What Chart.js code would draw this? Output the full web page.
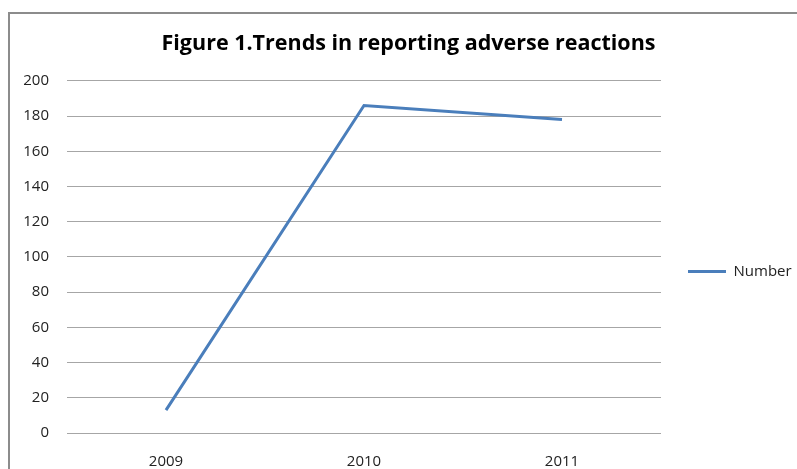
<!DOCTYPE html>
<html>
<head>
<meta charset="utf-8">
<script src="https://cdn.jsdelivr.net/npm/chart.js@4/dist/chart.umd.min.js"></script>
<style>
  html, body { margin: 0; padding: 0; background: #fff; overflow: hidden; }
  #wrap { position: relative; width: 797px; height: 469px; }
  #frame { position: absolute; left: 8px; top: 12px; width: 820px; height: 480px;
           border: 2px solid #8c8c8c; box-sizing: border-box; pointer-events: none; }
  canvas { position: absolute; left: 0; top: 0; }
</style>
</head>
<body>
<div id="wrap">
  <div id="frame"></div>
  <canvas id="chart" width="797" height="469"></canvas>
</div>
<script>
// chart data
const years = ['2009', '2010', '2011'];
const reports = [13, 186, 178];
const yTicks = [0, 20, 40, 60, 80, 100, 120, 140, 160, 180, 200];

const font = "'Open Sans', sans-serif";

// keep the legend a fixed width and nudge it down a bit
const legendTweak = {
  id: 'legendTweak',
  beforeLayout(chart) {
    const lg = chart.legend;
    if (lg && !lg._tweaked) {
      const fit = lg.fit;
      lg.fit = function () { fit.call(this); this.width = 136; };
      lg._tweaked = true;
    }
  },
  afterLayout(chart) {
    const lg = chart.legend;
    if (lg) { lg.top += 37; lg.bottom += 37; }
  }
};

const ctx = document.getElementById('chart').getContext('2d');
const chart = new Chart(ctx, {
  type: 'line',
  data: {
    labels: years,
    datasets: [{
      label: 'Number',
      data: reports,
      borderColor: '#4a7ebb',
      backgroundColor: '#4a7ebb',
      borderWidth: 3,
      pointRadius: 0,
      tension: 0,
      fill: false
    }]
  },
  options: {
    responsive: false,
    animation: false,
    layout: { padding: { left: 20, right: 0, top: 0, bottom: 0 } },
    plugins: {
      title: {
        display: true,
        text: 'Figure 1.Trends in reporting adverse reactions',
        color: '#000',
        font: { family: font, size: 21.5, weight: 'bold', lineHeight: 1.2 },
        padding: { top: 31, bottom: 24 }
      },
      legend: {
        position: 'right',
        labels: {
          usePointStyle: true,
          pointStyle: 'line',
          pointStyleWidth: 38,
          padding: 27,
          color: '#222',
          font: { family: font, size: 15 }
        }
      },
      tooltip: { enabled: false }
    },
    scales: {
      x: {
        offset: true,
        grid: { display: false },
        border: { display: false },
        ticks: { color: '#222', padding: 12, font: { family: font, size: 15 } },
        afterFit(scale) { scale.height = 36; }
      },
      y: {
        min: 0,
        max: 200,
        afterBuildTicks(scale) { scale.ticks = yTicks.map(v => ({ value: v })); },
        grid: { color: '#a6a6a6', lineWidth: 1, drawTicks: false },
        border: { display: false },
        ticks: { color: '#222', padding: 18, font: { family: font, size: 15 } },
        afterFit(scale) { scale.width = 47; }
      }
    }
  },
  plugins: [legendTweak]
});
</script>
</body>
</html>
